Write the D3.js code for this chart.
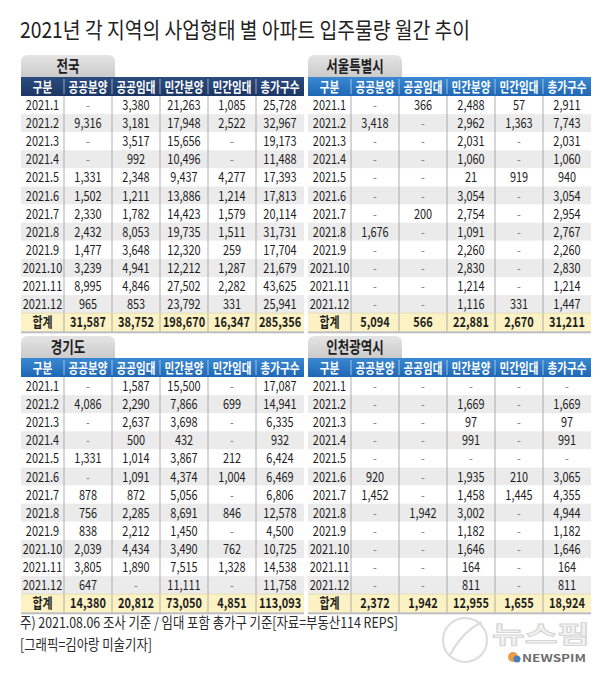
<!DOCTYPE html>
<html>
<head>
<meta charset="utf-8">
<script src="https://cdn.jsdelivr.net/npm/d3@7"></script>
<style>
	body { margin: 0; background: #fff; }
	text { font-family: "Noto Sans CJK KR", "Noto Sans", sans-serif; }
</style>
</head>
<body>
<div class="chart"></div>
<script>
// ---- data (null = "-") ----
const months = ["2021.1", "2021.2", "2021.3", "2021.4", "2021.5", "2021.6",
	"2021.7", "2021.8", "2021.9", "2021.10", "2021.11", "2021.12"];
const columns = ["구분", "공공분양", "공공임대", "민간분양", "민간임대", "총가구수"];
const totalLabel = "합계";

// 전국
const natPublicSale = [null, 9316, null, null, 1331, 1502, 2330, 2432, 1477, 3239, 8995, 965];
const natPublicRent = [3380, 3181, 3517, 992, 2348, 1211, 1782, 8053, 3648, 4941, 4846, 853];
const natPrivateSale = [21263, 17948, 15656, 10496, 9437, 13886, 14423, 19735, 12320, 12212, 27502, 23792];
const natPrivateRent = [1085, 2522, null, null, 4277, 1214, 1579, 1511, 259, 1287, 2282, 331];
const natTotal = [25728, 32967, 19173, 11488, 17393, 17813, 20114, 31731, 17704, 21679, 43625, 25941];
const natSums = [31587, 38752, 198670, 16347, 285356];

// 서울특별시
const seoulPublicSale = [null, 3418, null, null, null, null, null, 1676, null, null, null, null];
const seoulPublicRent = [366, null, null, null, null, null, 200, null, null, null, null, null];
const seoulPrivateSale = [2488, 2962, 2031, 1060, 21, 3054, 2754, 1091, 2260, 2830, 1214, 1116];
const seoulPrivateRent = [57, 1363, null, null, 919, null, null, null, null, null, null, 331];
const seoulTotal = [2911, 7743, 2031, 1060, 940, 3054, 2954, 2767, 2260, 2830, 1214, 1447];
const seoulSums = [5094, 566, 22881, 2670, 31211];

// 경기도
const ggPublicSale = [null, 4086, null, null, 1331, null, 878, 756, 838, 2039, 3805, 647];
const ggPublicRent = [1587, 2290, 2637, 500, 1014, 1091, 872, 2285, 2212, 4434, 1890, null];
const ggPrivateSale = [15500, 7866, 3698, 432, 3867, 4374, 5056, 8691, 1450, 3490, 7515, 11111];
const ggPrivateRent = [null, 699, null, null, 212, 1004, null, 846, null, 762, 1328, null];
const ggTotal = [17087, 14941, 6335, 932, 6424, 6469, 6806, 12578, 4500, 10725, 14538, 11758];
const ggSums = [14380, 20812, 73050, 4851, 113093];

// 인천광역시
const icPublicSale = [null, null, null, null, null, 920, 1452, null, null, null, null, null];
const icPublicRent = [null, null, null, null, null, null, null, 1942, null, null, null, null];
const icPrivateSale = [null, 1669, 97, 991, null, 1935, 1458, 3002, 1182, 1646, 164, 811];
const icPrivateRent = [null, null, null, null, null, 210, 1445, null, null, null, null, null];
const icTotal = [null, 1669, 97, 991, null, 3065, 4355, 4944, 1182, 1646, 164, 811];
const icSums = [2372, 1942, 12955, 1655, 18924];

// ---- layout ----
const width = 610, height = 673;
const colWidths = [43, 48, 48, 48, 48, 48];
const tabW = 94, tabH = 22, headH = 19, rowH = 18.1;
const squeeze = 0.78; // the original uses a condensed face
const fmt = d3.format(",");

const panels = [
	{ name: "전국", x: 21, y: 55, grad: "headNavy",
		series: [natPublicSale, natPublicRent, natPrivateSale, natPrivateRent, natTotal], sums: natSums },
	{ name: "서울특별시", x: 308, y: 55, grad: "headBlue",
		series: [seoulPublicSale, seoulPublicRent, seoulPrivateSale, seoulPrivateRent, seoulTotal], sums: seoulSums },
	{ name: "경기도", x: 21, y: 336, grad: "headBlue",
		series: [ggPublicSale, ggPublicRent, ggPrivateSale, ggPrivateRent, ggTotal], sums: ggSums },
	{ name: "인천광역시", x: 308, y: 336, grad: "headBlue",
		series: [icPublicSale, icPublicRent, icPrivateSale, icPrivateRent, icTotal], sums: icSums }
];

const svg = d3.select("div.chart").append("svg")
	.attr("width", width)
	.attr("height", height);

svg.append("rect").attr("width", width).attr("height", height).attr("fill", "#fff");

const defs = svg.append("defs");
addGradient("tabGrad", "#e4e4e4", "#cbcbcb");
addGradient("headNavy", "#2b4c80", "#1b3663");
addGradient("headBlue", "#3a88d2", "#1f67b4");

function addGradient(id, top, bottom) {
	let lg = defs.append("linearGradient").attr("id", id)
		.attr("x1", 0).attr("y1", 0).attr("x2", 0).attr("y2", 1);
	lg.append("stop").attr("offset", "0%").style("stop-color", top);
	lg.append("stop").attr("offset", "100%").style("stop-color", bottom);
}

// centred text, narrowed with textLength to mimic the condensed face
function label(sel, cx, cy, str, size, weight, fill) {
	let t = sel.append("text")
		.attr("x", cx)
		.attr("y", cy)
		.attr("text-anchor", "middle")
		.attr("dy", "0.36em")
		.attr("font-size", size)
		.attr("font-weight", weight)
		.attr("fill", fill)
		.text(str);
	let len = t.node().getComputedTextLength();
	if (len > 0) {
		t.attr("textLength", len * squeeze).attr("lengthAdjust", "spacingAndGlyphs");
	}
	return t;
}

function roundedTop(w, h, r) {
	return "M0," + h + " L0," + r + " Q0,0 " + r + ",0 L" + (w - r) + ",0 Q" + w + ",0 " + w + "," + r + " L" + w + "," + h + " Z";
}

// title
svg.append("text")
	.attr("x", 20).attr("y", 38)
	.attr("font-size", 22)
	.attr("fill", "#222")
	.attr("textLength", 450)
	.attr("lengthAdjust", "spacingAndGlyphs")
	.text("2021년 각 지역의 사업형태 별 아파트 입주물량 월간 추이");

panels.forEach(drawTable);

function drawTable(p) {
	const g = svg.append("g").attr("transform", "translate(" + p.x + "," + p.y + ")");
	const offsets = [0].concat(Array.from(d3.cumsum(colWidths)));
	const tableW = offsets[offsets.length - 1];

	const x = d3.scaleOrdinal().domain(columns).range(offsets.slice(0, columns.length));
	const w = d3.scaleOrdinal().domain(columns).range(colWidths);
	const rowKeys = months.concat([totalLabel]);
	const y = d3.scaleBand()
		.domain(rowKeys)
		.range([tabH + headH, tabH + headH + rowKeys.length * rowH]);
	const bottom = y.range()[1];

	// tab
	g.append("path").attr("d", roundedTop(tabW, tabH, 7)).attr("fill", "url(#tabGrad)");
	label(g, tabW / 2, tabH / 2, p.name, 16, 700, "#1e1e1e");

	// header
	g.append("rect")
		.attr("y", tabH).attr("width", tableW).attr("height", headH)
		.attr("fill", "url(#" + p.grad + ")");
	columns.forEach(c => label(g, x(c) + w(c) / 2, tabH + headH / 2 + 0.5, c, 13.5, 700, "#fff"));

	// rows
	const rows = months.map((m, i) => ({ key: m, i: i, cells: [m].concat(p.series.map(s => s[i])) }));
	rows.push({ key: totalLabel, i: -1, total: true, cells: [totalLabel].concat(p.sums) });

	const rowSel = g.selectAll("g.row").data(rows).join("g").attr("class", "row");

	rowSel.append("rect")
		.attr("y", d => y(d.key))
		.attr("width", tableW)
		.attr("height", y.bandwidth())
		.attr("fill", d => d.total ? "#fcf2c3" : (d.i % 2 === 1 ? "#ebebeb" : "#fff"));

	rowSel.each(function(d) {
		const r = d3.select(this);
		d.cells.forEach((v, j) => {
			const c = columns[j];
			let str, fill = "#1e1e1e";
			if (j === 0) str = v;
			else if (v === null) { str = "-"; fill = "#888"; }
			else str = fmt(v);
			label(r, x(c) + w(c) / 2, y(d.key) + y.bandwidth() / 2, str,
				14, d.total ? 700 : 400, fill);
		});
	});

	// column separators
	offsets.slice(1, columns.length).forEach(o => {
		g.append("line")
			.attr("x1", o).attr("x2", o)
			.attr("y1", tabH + 2).attr("y2", tabH + headH - 2)
			.attr("stroke", "rgba(255,255,255,0.55)");
		g.append("line")
			.attr("x1", o).attr("x2", o)
			.attr("y1", tabH + headH).attr("y2", bottom)
			.attr("stroke", "#9a9a9a").attr("stroke-width", 0.8);
	});

	// total row edge + shadow
	g.append("line")
		.attr("x1", 0).attr("x2", tableW)
		.attr("y1", y(totalLabel)).attr("y2", y(totalLabel))
		.attr("stroke", "#e2d9a6").attr("stroke-width", 0.8);
	g.append("rect")
		.attr("y", bottom).attr("width", tableW).attr("height", 2)
		.attr("fill", "#bdbdbd");
}

// footnote
svg.append("text")
	.attr("x", 20).attr("y", 628)
	.attr("font-size", 14.5).attr("fill", "#2a2a2a")
	.attr("textLength", 378).attr("lengthAdjust", "spacingAndGlyphs")
	.text("주) 2021.08.06 조사 기준 / 임대 포함 총가구 기준[자료=부동산114 REPS]");
svg.append("text")
	.attr("x", 20).attr("y", 650)
	.attr("font-size", 14.5).attr("fill", "#2a2a2a")
	.attr("textLength", 132).attr("lengthAdjust", "spacingAndGlyphs")
	.text("[그래픽=김아랑 미술기자]");

// watermark
const logo = svg.append("g").attr("opacity", 0.85);
logo.append("circle").attr("cx", 465).attr("cy", 640).attr("r", 22)
	.attr("fill", "none").attr("stroke", "#d6d6d6").attr("stroke-width", 2);
logo.append("path").attr("d", "M450,655 Q462,632 482,622")
	.attr("fill", "none").attr("stroke", "#d6d6d6").attr("stroke-width", 2);
logo.append("text").attr("x", 492).attr("y", 643)
	.attr("font-size", 24).attr("font-weight", 700)
	.attr("fill", "#f0f0f0").attr("stroke", "#cfcfcf").attr("stroke-width", 1)
	.attr("textLength", 98).attr("lengthAdjust", "spacingAndGlyphs")
	.text("뉴스핌");
logo.append("circle").attr("cx", 513).attr("cy", 657).attr("r", 5).attr("fill", "#e48a2a");
logo.append("circle").attr("cx", 517).attr("cy", 659).attr("r", 3.5).attr("fill", "#2a6ab0");
logo.append("text").attr("x", 522).attr("y", 662)
	.attr("font-size", 10).attr("font-weight", 700).attr("fill", "#555")
	.attr("textLength", 64).attr("lengthAdjust", "spacingAndGlyphs")
	.text("NEWSPIM");
</script>
</body>
</html>
